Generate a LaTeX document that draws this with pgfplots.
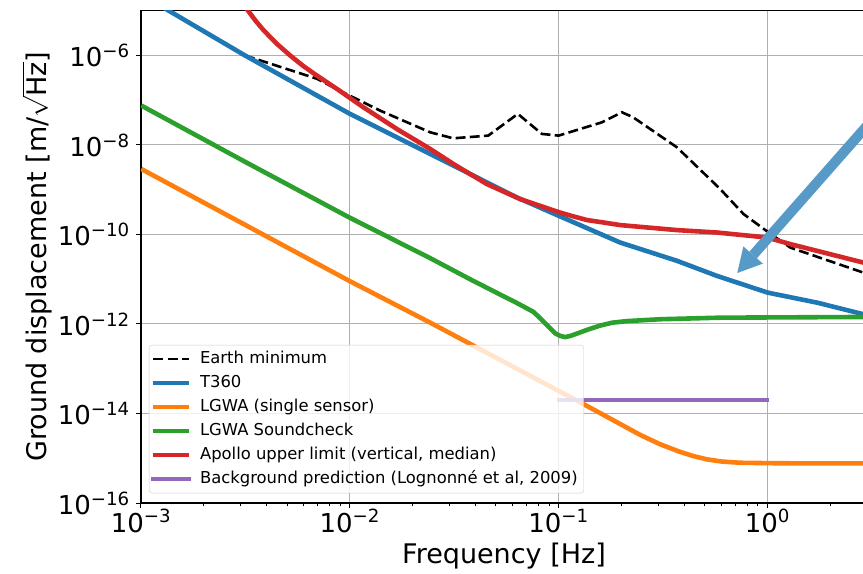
\documentclass[border=0pt]{standalone}
\usepackage{fontspec}
\setmainfont{DejaVu Sans}
\usepackage{pgfplots}
\pgfplotsset{compat=1.18}
\usetikzlibrary{arrows.meta}
\definecolor{tabblue}{HTML}{1F77B4}
\definecolor{taborange}{HTML}{FF7F0E}
\definecolor{tabgreen}{HTML}{2CA02C}
\definecolor{tabred}{HTML}{D62728}
\definecolor{tabpurple}{HTML}{9467BD}
\definecolor{gridgray}{HTML}{B0B0B0}
\definecolor{legendgray}{HTML}{CCCCCC}
\definecolor{arrowblue}{HTML}{5799C7}

\begin{document}
\begin{tikzpicture}
\begin{loglogaxis}[
    name=ax,
    scale only axis,
    width=726pt, height=492.3pt,
    xmin=1e-3, xmax=3, ymin=1e-16, ymax=1e-5,
    xtick={1e-3,1e-2,1e-1,1},
    xticklabels={10\textsuperscript{−3},10\textsuperscript{−2},10\textsuperscript{−1},10\textsuperscript{0}},
    minor xtick={2e-3,3e-3,4e-3,5e-3,6e-3,7e-3,8e-3,9e-3,
                 2e-2,3e-2,4e-2,5e-2,6e-2,7e-2,8e-2,9e-2,
                 0.2,0.3,0.4,0.5,0.6,0.7,0.8,0.9,2},
    ytick={1e-16,1e-14,1e-12,1e-10,1e-8,1e-6},
    yticklabels={10\textsuperscript{−16},10\textsuperscript{−14},10\textsuperscript{−12},10\textsuperscript{−10},10\textsuperscript{−8},10\textsuperscript{−6}},
    yminorticks=false,
    grid=major,
    major grid style={draw=gridgray, line width=1pt},
    tick align=outside, tick pos=left,
    major tick length=5pt, minor tick length=3pt,
    every tick/.append style={black, line width=1pt},
    every minor tick/.append style={black, line width=0.8pt},
    axis line style={black, line width=1.1pt},
    tick label style={font=\fontsize{26}{31}\selectfont, inner sep=0pt},
    xticklabel style={anchor=base, yshift=-24pt},
    yticklabel style={anchor=east, xshift=-6pt},
    label style={font=\fontsize{27}{32}\selectfont},
    xlabel={Frequency [Hz]},
    xlabel style={at={(axis description cs:0.5,0)}, anchor=base, yshift=-60.3pt},
    ylabel={Ground displacement [m/$\sqrt{\mbox{Hz}}$]},
    ylabel style={at={(axis description cs:-0.1433,0.5)}, anchor=center},
    legend style={at={(axis description cs:0.0110,0.0197)}, anchor=south west,
        draw=legendgray, fill=white, fill opacity=0.8,
        draw opacity=1, text opacity=1, rounded corners=3pt,
        font=\fontsize{16.4}{19}\selectfont,
        inner xsep=2pt, inner ysep=2pt, row sep=0pt, column sep=4.3pt,
        nodes={inner xsep=4pt, inner ysep=4pt, text height=12.5pt, text depth=3.5pt}},
    legend cell align=left,
    legend image code/.code={\draw[#1] (0pt,0pt) -- (36pt,0pt);},
]
% Earth minimum
\addplot[black, line width=2.6pt, dash pattern=on 9.9pt off 4.3pt] coordinates {
    (3.148e-3,1.0e-6) (6.97e-3,3.01e-7) (8.79e-3,1.706e-7) (1.396e-2,5.87e-8)
    (2.427e-2,1.919e-8) (3.126e-2,1.409e-8) (4.603e-2,1.618e-8) (6.383e-2,4.95e-8)
    (8.318e-2,1.766e-8) (0.1,1.618e-8) (0.1614,3.21e-8) (0.2009,5.38e-8)
    (0.2275,4.16e-8) (0.369,8.85e-9) (0.5943,1.038e-9) (0.7691,2.86e-10)
    (1.014,1.107e-10) (1.288,5.1e-11) (2.877,1.41e-11) (3.2,1.19e-11)
};
\addlegendentry{Earth minimum}
% T360
\addplot[tabblue, line width=4.6pt, line join=round] coordinates {
    (1.122e-3,1.70e-5) (1.368e-3,9.82e-6) (3.148e-3,1.0e-6) (1.002e-2,4.95e-8)
    (2.427e-2,6.30e-9) (6.31e-2,6.73e-10) (0.1,2.62e-10) (0.1972,6.61e-11)
    (0.369,2.58e-11) (0.573,1.189e-11) (1.004,5.02e-12) (1.73,3.0e-12)
    (2.884,1.652e-12) (3.2,1.41e-12)
};
\addlegendentry{T360}
% LGWA single sensor
\addplot[taborange, line width=4.6pt, line join=round] coordinates {
    (1.003e-3,2.91e-9) (9.95e-3,9.18e-12) (2.427e-2,1.072e-12) (8.15e-2,5.31e-14)
    (0.139,1.416e-14) (0.2468,3.30e-15) (0.3068,2.05e-15) (0.380,1.40e-15)
    (0.4416,1.119e-15) (0.5136,9.44e-16) (0.6080,8.43e-16) (0.7417,7.93e-16)
    (1.153,7.72e-16) (2.877,7.69e-16) (3.2,7.69e-16)
};
\addlegendentry{LGWA (single sensor)}
% LGWA Soundcheck
\addplot[tabgreen, line width=4.6pt, line join=round] coordinates {
    (1.003e-3,7.60e-8) (3.206e-3,4.03e-9) (9.95e-3,2.40e-10) (2.427e-2,2.96e-11)
    (3.767e-2,1.002e-11) (5.25e-2,4.55e-12) (6.31e-2,2.95e-12) (7.59e-2,1.86e-12)
    (8.32e-2,1.23e-12) (9.12e-2,8.0e-13)
    (9.63e-2,6.18e-13) (0.1019,5.40e-13) (0.1076,5.10e-13) (0.1146,5.46e-13)
    (0.1224,6.1e-13) (0.1391,7.59e-13) (0.1582,9.2e-13) (0.1800,1.067e-12)
    (0.2125,1.16e-12) (0.3064,1.277e-12) (0.594,1.384e-12) (2.877,1.435e-12)
    (3.2,1.44e-12)
};
\addlegendentry{LGWA Soundcheck}
% Apollo upper limit
\addplot[tabred, line width=4.6pt, line join=round] coordinates {
    (2.951e-3,1.778e-5) (3.266e-3,9.82e-6) (3.556e-3,5.80e-6) (3.855e-3,3.71e-6)
    (4.459e-3,1.849e-6) (5.18e-3,1.0e-6) (5.972e-3,5.87e-7) (6.95e-3,3.56e-7)
    (8.81e-3,1.706e-7) (1.161e-2,6.97e-8) (1.679e-2,2.286e-8) (2.427e-2,8.15e-9)
    (3.133e-2,3.77e-9) (4.529e-2,1.343e-9) (6.546e-2,6.19e-10) (0.1,3.16e-10)
    (0.1162,2.58e-10) (0.1368,2.10e-10) (0.1636,1.858e-10) (0.1972,1.622e-10)
    (0.369,1.253e-10) (0.573,1.107e-10) (0.9954,8.55e-11) (1.288,6.10e-11)
    (2.877,2.36e-11) (3.2,2.09e-11)
};
\addlegendentry{Apollo upper limit (vertical, median)}
% Background prediction
\addplot[tabpurple, line width=4pt, line cap=rect] coordinates {
    (0.1,1.96e-14) (1.0,1.96e-14)
};
\addlegendentry{Background prediction (Lognonné et al, 2009)}
\draw[arrowblue, line width=10pt, -{Triangle[width=26pt,length=24pt,line width=0pt]}]
    (axis cs:4.01,1.247e-7) -- (axis cs:0.7174,1.377e-11);
\end{loglogaxis}
\pgfresetboundingbox
\path ([xshift=-141pt,yshift=-70pt]ax.south west) rectangle ([xshift=-4pt,yshift=10.7pt]ax.north east);
\end{tikzpicture}
\end{document}
